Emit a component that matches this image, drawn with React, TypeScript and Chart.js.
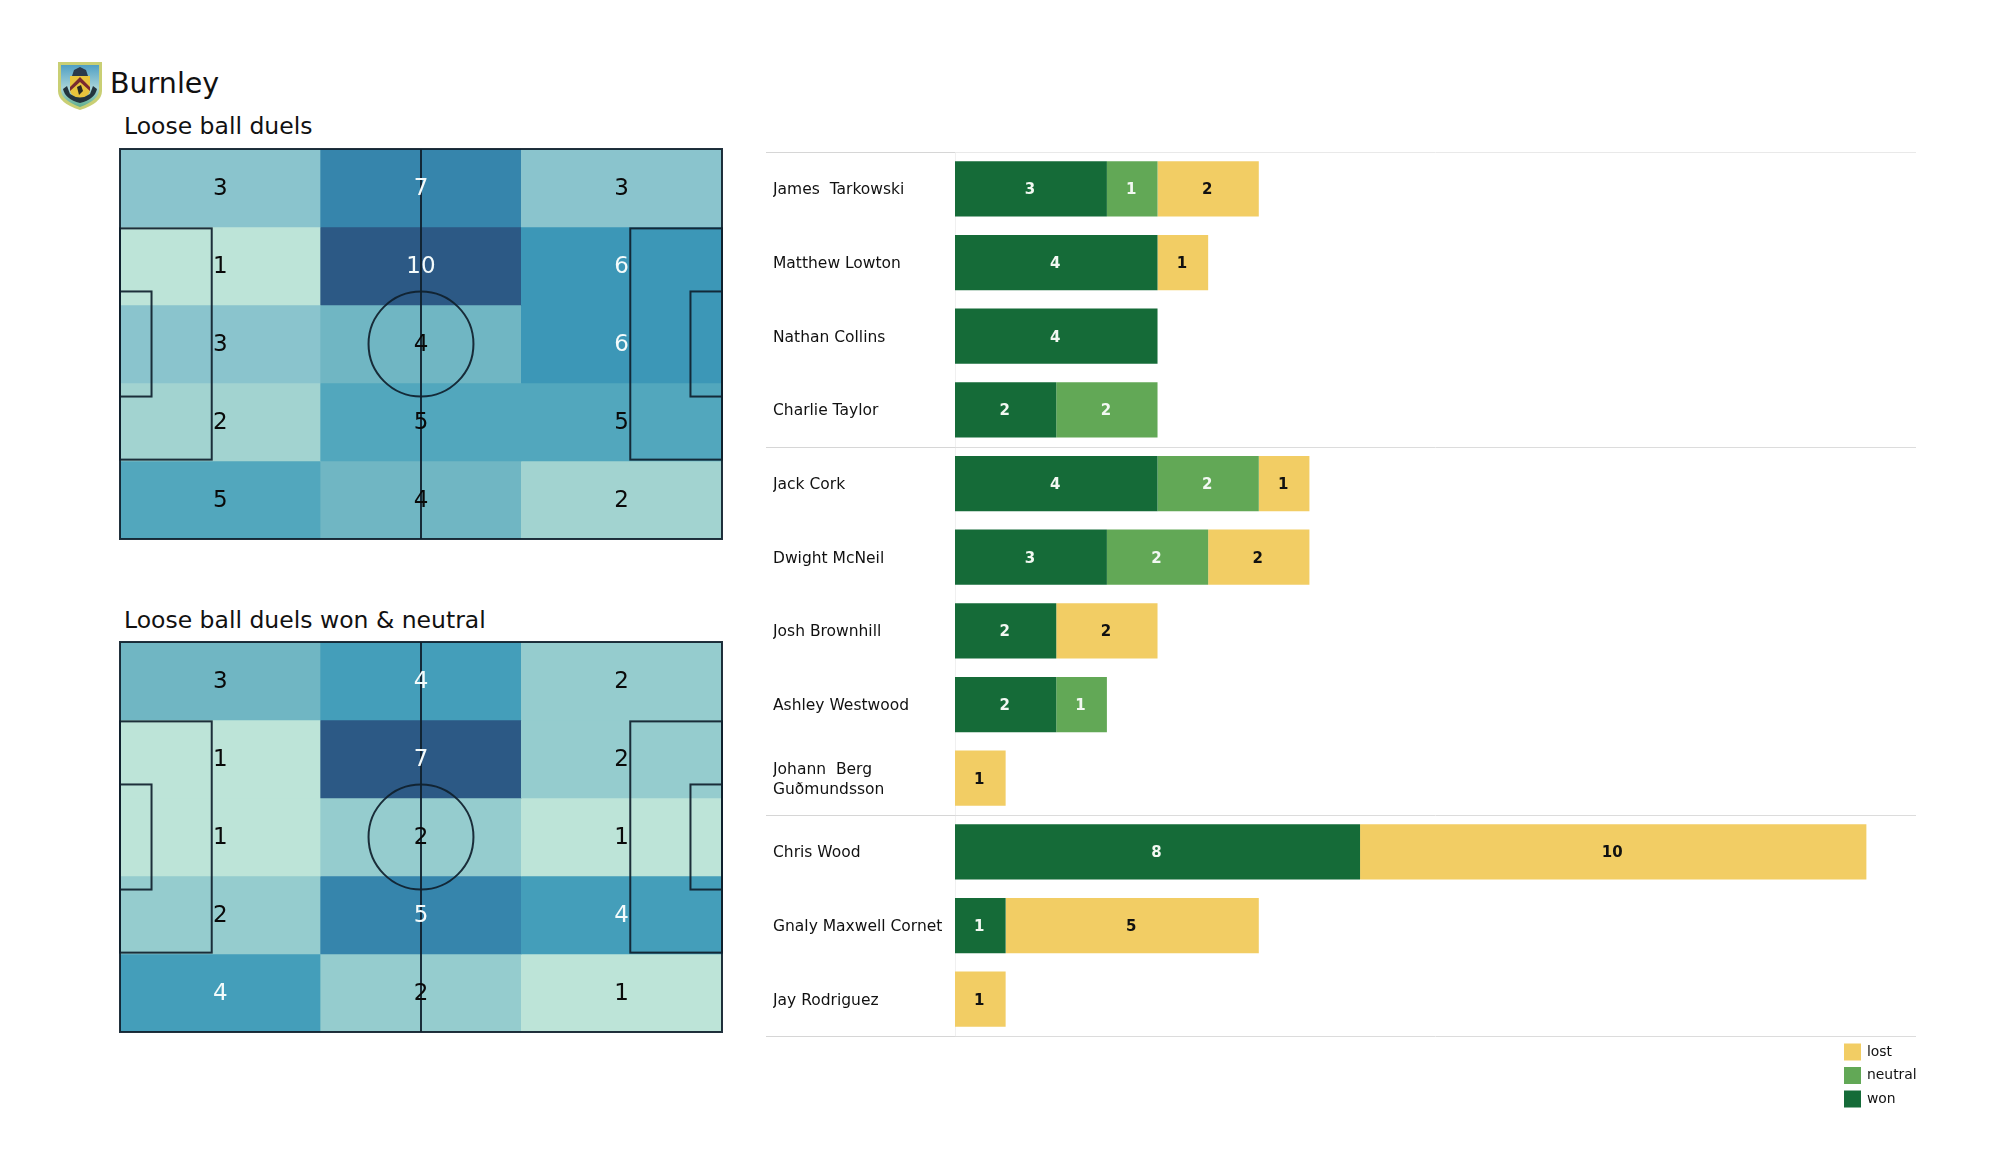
import React, { useEffect, useRef } from "react";
import { Chart, registerables } from "chart.js";

Chart.register(...registerables);

const FONT = "'DejaVu Sans'";

// ---- data ----
const teamName = "Burnley";
const pitchTitleAll = "Loose ball duels";
const pitchTitleWon = "Loose ball duels won & neutral";
const pitchColumns = ["left", "middle", "right"];
const allDuelsGrid = [
  [3, 7, 3],
  [1, 10, 6],
  [3, 4, 6],
  [2, 5, 5],
  [5, 4, 2],
];
const wonNeutralGrid = [
  [3, 4, 2],
  [1, 7, 2],
  [1, 2, 1],
  [2, 5, 4],
  [4, 2, 1],
];
const playerNames: (string | string[])[] = [
  "James  Tarkowski",
  "Matthew Lowton",
  "Nathan Collins",
  "Charlie Taylor",
  "Jack Cork",
  "Dwight McNeil",
  "Josh Brownhill",
  "Ashley Westwood",
  ["Johann  Berg", "Guðmundsson"],
  "Chris Wood",
  "Gnaly Maxwell Cornet",
  "Jay Rodriguez",
];
const wonValues = [3, 4, 4, 2, 4, 3, 2, 2, 0, 8, 1, 0];
const neutralValues = [1, 0, 0, 2, 2, 2, 0, 1, 0, 0, 0, 0];
const lostValues = [2, 1, 0, 0, 1, 2, 2, 0, 1, 10, 5, 1];
const positionGroups = [4, 5, 3];

// ---- styles ----
const WON = "#156b38";
const NEUTRAL = "#62a856";
const LOST = "#f2cd64";
const heatStops: [number, string][] = [
  [0, "#bde4d8"],
  [0.111, "#a2d3d0"],
  [0.167, "#95ccce"],
  [0.222, "#8ac4cd"],
  [0.333, "#70b6c3"],
  [0.444, "#52a7bd"],
  [0.5, "#449eba"],
  [0.556, "#3c97b7"],
  [0.667, "#3685ac"],
  [1, "#2c5985"],
];

function heatColor(t: number) {
  for (let i = 1; i < heatStops.length; i++) {
    const [t1, c1] = heatStops[i];
    if (t <= t1 + 1e-6) {
      const [t0, c0] = heatStops[i - 1];
      const f = (t - t0) / (t1 - t0);
      const p = (c: string, k: number) => parseInt(c.substr(1 + k * 2, 2), 16);
      const mix = [0, 1, 2].map((k) => Math.round(p(c0, k) + (p(c1, k) - p(c0, k)) * f));
      return `rgb(${mix.join(",")})`;
    }
  }
  return heatStops[heatStops.length - 1][1];
}

const pitchMarkings = {
  id: "pitchMarkings",
  afterDatasetsDraw(chart: any) {
    const { ctx } = chart;
    const sx = chart.scales.px;
    const sy = chart.scales.py;
    const X = (v: number) => sx.getPixelForValue(v);
    const Y = (v: number) => sy.getPixelForValue(v);
    ctx.save();
    ctx.strokeStyle = "rgba(15,32,44,0.92)";
    ctx.lineWidth = 2;
    const rect = (x0: number, y0: number, x1: number, y1: number) =>
      ctx.strokeRect(X(x0), Y(y0), X(x1) - X(x0), Y(y1) - Y(y0));
    rect(0, 0, 105, 68);
    rect(0, 13.84, 16, 54.16);
    rect(89, 13.84, 105, 54.16);
    rect(0, 24.84, 5.5, 43.16);
    rect(99.5, 24.84, 105, 43.16);
    ctx.beginPath();
    ctx.moveTo(X(52.5), Y(0));
    ctx.lineTo(X(52.5), Y(68));
    ctx.stroke();
    ctx.beginPath();
    ctx.ellipse(X(52.5), Y(34), X(9.15) - X(0), Y(9.15) - Y(0), 0, 0, Math.PI * 2);
    ctx.stroke();
    ctx.restore();
  },
};

const heatLabels = {
  id: "heatLabels",
  afterDraw(chart: any) {
    const { ctx } = chart;
    const grid: number[][] = chart.options.plugins.heatLabels.grid;
    const flat = grid.flat();
    const lo = Math.min(...flat);
    const hi = Math.max(...flat);
    ctx.save();
    ctx.font = `23px ${FONT}`;
    ctx.textAlign = "center";
    ctx.textBaseline = "middle";
    chart.data.datasets.forEach((_: any, r: number) => {
      chart.getDatasetMeta(r).data.forEach((el: any, c: number) => {
        const pt = el.getCenterPoint();
        const v = grid[r][c];
        ctx.fillStyle = (v - lo) / (hi - lo) >= 0.5 ? "#f4fbfb" : "#0a0a0a";
        ctx.fillText(String(v), pt.x, pt.y + 1);
      });
    });
    ctx.restore();
  },
};

function Pitch({ grid, style }: { grid: number[][]; style: React.CSSProperties }) {
  const ref = useRef<HTMLCanvasElement>(null);
  useEffect(() => {
    const flat = grid.flat();
    const lo = Math.min(...flat);
    const hi = Math.max(...flat);
    const chart = new Chart(ref.current!, {
      type: "bar",
      data: {
        labels: pitchColumns,
        datasets: grid.map((row, r) => ({
          label: `row ${r + 1}`,
          data: row.map(() => [r, r + 1]),
          backgroundColor: row.map((v) => heatColor((v - lo) / (hi - lo))),
          borderWidth: 0,
          grouped: false,
          categoryPercentage: 1,
          barPercentage: 1,
        })),
      } as any,
      options: {
        animation: false,
        responsive: false,
        layout: { padding: 2 },
        scales: {
          x: { display: false },
          y: { display: false, min: 0, max: 5, reverse: true },
          px: { display: false, type: "linear", axis: "x", min: 0, max: 105, offset: false },
          py: { display: false, type: "linear", axis: "y", min: 0, max: 68, reverse: true, offset: false },
        },
        plugins: {
          legend: { display: false },
          tooltip: { enabled: false },
          heatLabels: { grid },
        },
      } as any,
      plugins: [pitchMarkings, heatLabels],
    });
    return () => chart.destroy();
  }, [grid]);
  return <canvas ref={ref} width={606} height={394} style={{ position: "absolute", ...style }} />;
}

const barLabels = {
  id: "barLabels",
  afterDatasetsDraw(chart: any) {
    const { ctx } = chart;
    ctx.save();
    ctx.font = `bold 15px ${FONT}`;
    ctx.textAlign = "center";
    ctx.textBaseline = "middle";
    chart.data.datasets.forEach((ds: any, d: number) => {
      chart.getDatasetMeta(d).data.forEach((el: any, i: number) => {
        const v = ds.data[i];
        if (!v) return;
        const pt = el.getCenterPoint();
        ctx.fillStyle = ds.label === "lost" ? "#111111" : "#f2f8f2";
        ctx.fillText(String(v), pt.x - 1, pt.y + 1.5);
      });
    });
    ctx.restore();
  },
};

const groupRules = {
  id: "groupRules",
  beforeDatasetsDraw(chart: any) {
    const { ctx, chartArea } = chart;
    const ys = chart.scales.y;
    const step = ys.getPixelForValue(1) - ys.getPixelForValue(0);
    const edges = [0];
    positionGroups.forEach((n) => edges.push(edges[edges.length - 1] + n));
    ctx.save();
    ctx.lineWidth = 1;
    ctx.strokeStyle = "#f0f0f0";
    ctx.beginPath();
    ctx.moveTo(Math.round(chartArea.left) + 0.5, chartArea.top);
    ctx.lineTo(Math.round(chartArea.left) + 0.5, chartArea.bottom);
    ctx.stroke();
    edges.forEach((k, idx) => {
      const y = Math.round(ys.getPixelForValue(0) - step / 2 + k * step) + 0.5;
      ctx.strokeStyle = "#d6d6d6";
      ctx.beginPath();
      ctx.moveTo(0, y);
      ctx.lineTo(chartArea.left, y);
      ctx.stroke();
      ctx.strokeStyle = idx === 0 ? "#e9e9e9" : "#dcdcdc";
      ctx.beginPath();
      ctx.moveTo(chartArea.left, y);
      ctx.lineTo(chartArea.right, y);
      ctx.stroke();
    });
    ctx.restore();
  },
};

const cornerLegend = {
  id: "cornerLegend",
  afterDraw(chart: any) {
    const { ctx, chartArea } = chart;
    const items = [...chart.data.datasets].reverse();
    ctx.save();
    ctx.font = `13.9px ${FONT}`;
    ctx.textAlign = "left";
    ctx.textBaseline = "middle";
    items.forEach((ds: any, i: number) => {
      const x = chartArea.right - 72;
      const y = chartArea.bottom + 7.5 + i * 23.5;
      ctx.fillStyle = ds.backgroundColor;
      ctx.fillRect(x, y, 17, 17);
      ctx.fillStyle = "#111111";
      ctx.fillText(ds.label, x + 23, y + 8.5);
    });
    ctx.restore();
  },
};

function PlayerBars({ style }: { style: React.CSSProperties }) {
  const ref = useRef<HTMLCanvasElement>(null);
  useEffect(() => {
    const chart = new Chart(ref.current!, {
      type: "bar",
      data: {
        labels: playerNames,
        datasets: [
          { label: "won", data: wonValues, backgroundColor: WON },
          { label: "neutral", data: neutralValues, backgroundColor: NEUTRAL },
          { label: "lost", data: lostValues, backgroundColor: LOST },
        ],
      } as any,
      options: {
        animation: false,
        responsive: false,
        indexAxis: "y",
        datasets: { bar: { categoryPercentage: 1, barPercentage: 0.75, borderWidth: 0 } },
        layout: { padding: { left: 7, right: 14, top: 0, bottom: 84 } },
        scales: {
          x: { stacked: true, display: false, min: 0, max: 18.98 },
          y: {
            stacked: true,
            grid: { display: false },
            border: { display: false },
            afterFit(scale: any) {
              scale.width = 182;
              scale.paddingTop = 0;
              scale.paddingBottom = 0;
              // tick labels sit slightly below the bar centres
              if (!scale.__nudged) {
                const tickPixel = scale.getPixelForTick.bind(scale);
                scale.getPixelForTick = (i: number) => tickPixel(i) + 1.5;
                scale.__nudged = true;
              }
            },
            ticks: {
              crossAlign: "far",
              color: "#111111",
              autoSkip: false,
              font: { family: "DejaVu Sans", size: 15.5, lineHeight: 1.3 },
            },
          },
        },
        plugins: { legend: { display: false }, tooltip: { enabled: false } },
      } as any,
      plugins: [groupRules, barLabels, cornerLegend],
    });
    return () => chart.destroy();
  }, []);
  return <canvas ref={ref} width={1164} height={968} style={{ position: "absolute", ...style }} />;
}

function Crest() {
  return (
    <svg width={46} height={50} viewBox="0 0 46 50" style={{ position: "absolute", left: 57, top: 61 }}>
      <defs>
        <linearGradient id="sky" x1="0" y1="0" x2="0" y2="1">
          <stop offset="0" stopColor="#4f9fc4" />
          <stop offset="0.55" stopColor="#a8d4d8" />
          <stop offset="1" stopColor="#5fae8e" />
        </linearGradient>
      </defs>
      <path d="M1 1 H45 V30 Q45 42 23 49 Q1 42 1 30 Z" fill="#c9cf74" />
      <path d="M4 4 H42 V29 Q42 39 23 46 Q4 39 4 29 Z" fill="url(#sky)" />
      <path d="M17 9 L23 6 L29 9 L31 15 H15 Z" fill="#2b3a4a" />
      <path d="M13 15 H33 V29 Q33 35 23 38 Q13 35 13 29 Z" fill="#e8c43c" />
      <path d="M13 26 L23 16 L33 26 L33 30 L23 21 L13 30 Z" fill="#7a2a2f" />
      <path d="M20 26 L24 24 L26 30 L22 34 Z" fill="#2a2a22" />
      <path d="M6 28 Q8 38 23 42 Q38 38 40 28 L36 25 L33 33 Q23 40 13 33 L10 25 Z" fill="#23343d" />
    </svg>
  );
}

const headingStyle: React.CSSProperties = {
  position: "absolute",
  fontFamily: FONT,
  color: "#111111",
  whiteSpace: "nowrap",
  lineHeight: 1,
};

export default function App() {
  return (
    <div style={{ position: "absolute", left: 0, top: 0, width: 2000, height: 1175, background: "#fff", overflow: "hidden" }}>
      <Crest />
      <div style={{ ...headingStyle, left: 110, top: 70, fontSize: 28.5 }}>{teamName}</div>
      <div style={{ ...headingStyle, left: 124, top: 115, fontSize: 23.5 }}>{pitchTitleAll}</div>
      <div style={{ ...headingStyle, left: 124, top: 609, fontSize: 23.5 }}>{pitchTitleWon}</div>
      <Pitch grid={allDuelsGrid} style={{ left: 118, top: 147 }} />
      <Pitch grid={wonNeutralGrid} style={{ left: 118, top: 640 }} />
      <PlayerBars style={{ left: 766, top: 152 }} />
    </div>
  );
}
